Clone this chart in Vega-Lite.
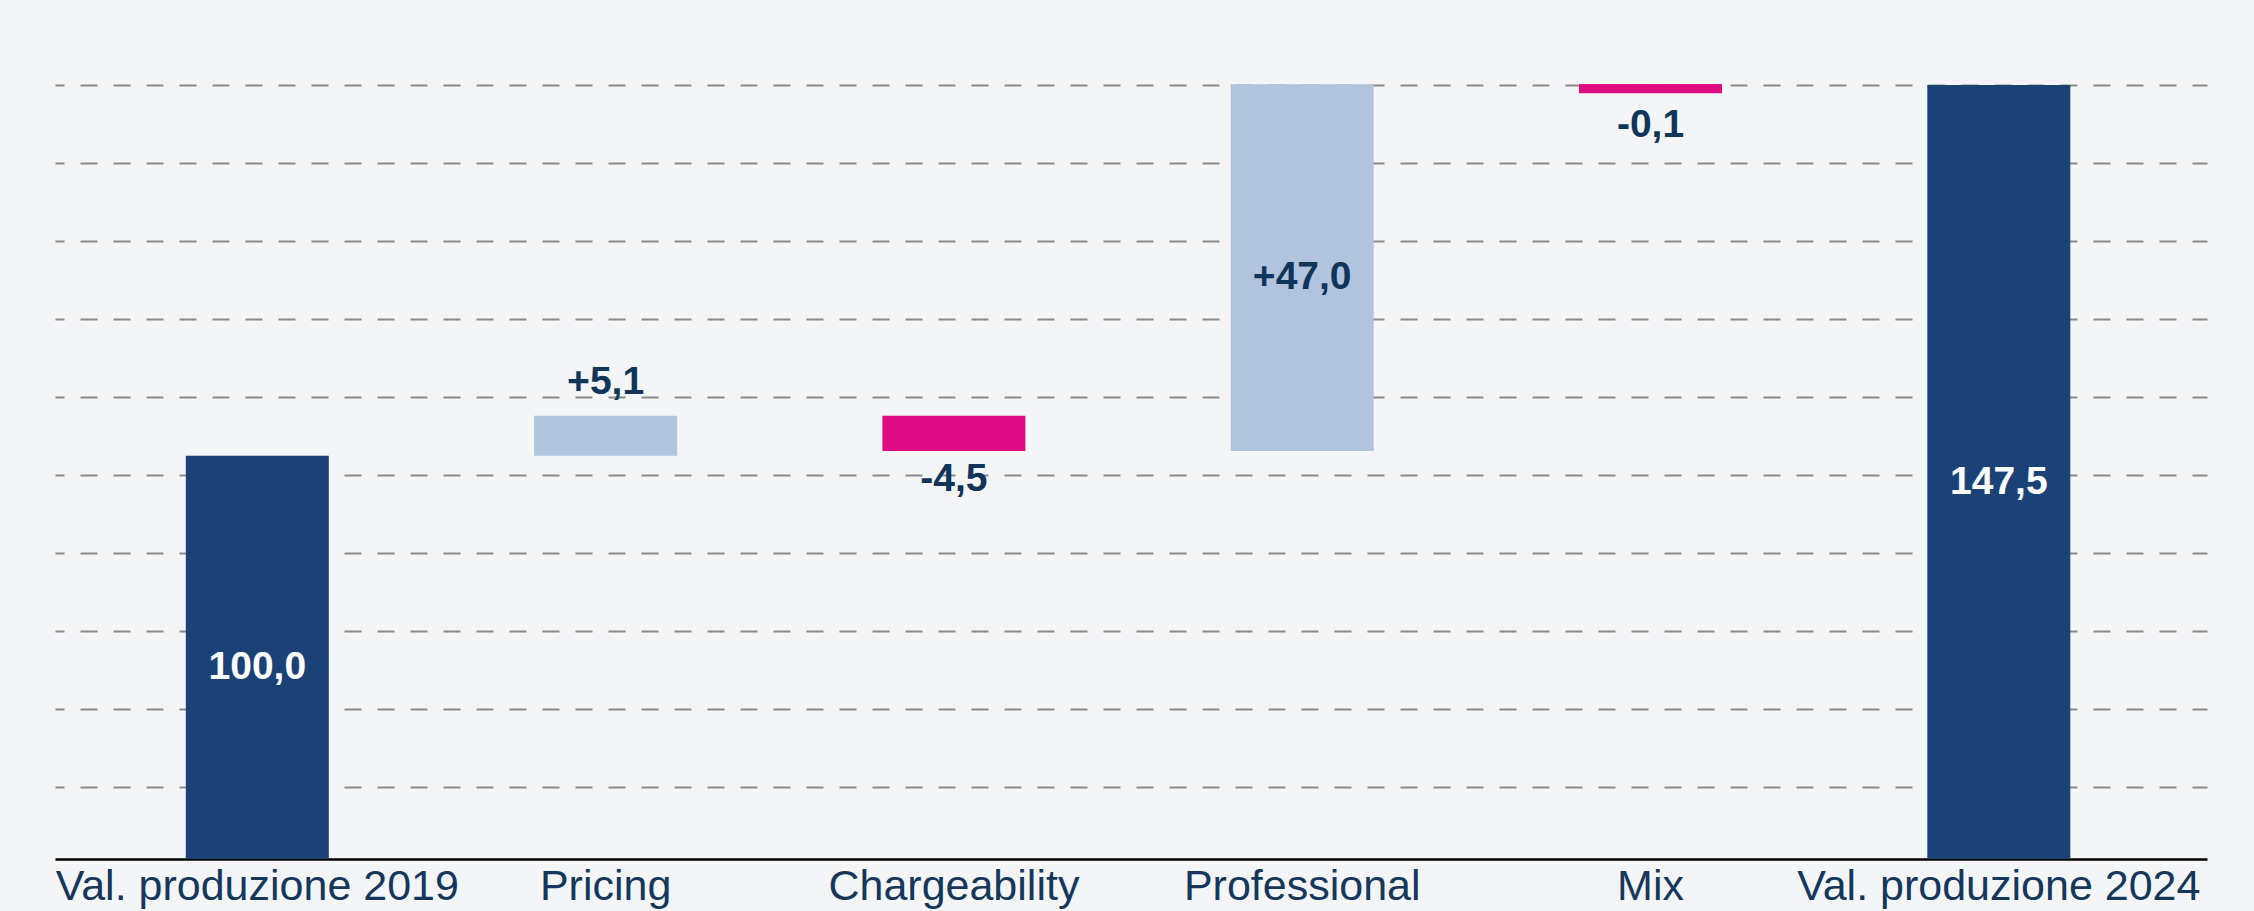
{
  "$schema": "https://vega.github.io/schema/vega-lite/v6.json",
  "autosize": {"type": "none"},
  "padding": {"left": 55, "top": 0, "right": 47, "bottom": 52},
  "width": 2152,
  "height": 859,
  "background": "#f4f5f7",
  "config": {"view": {"stroke": null}},
  "data": {"values": [
    {"label": "Val. produzione 2019", "start": 0, "end": 100, "type": "total", "text": "100,0"},
    {"label": "Pricing", "start": 100, "end": 105.1, "type": "increase", "text": "+5,1"},
    {"label": "Chargeability", "start": 105.1, "end": 100.6, "type": "decrease", "text": "-4,5"},
    {"label": "Professional", "start": 100.6, "end": 147.6, "type": "increase", "text": "+47,0"},
    {"label": "Mix", "start": 147.6, "end": 147.5, "type": "decrease", "text": "-0,1"},
    {"label": "Val. produzione 2024", "start": 0, "end": 147.5, "type": "total", "text": "147,5"}
  ]},
  "transform": [
    {"calculate": "(max(datum.start, 48.3) + datum.end) / 2", "as": "mid"},
    {"calculate": "datum.end - datum.start", "as": "delta"}
  ],
  "encoding": {
    "x": {
      "field": "label", "type": "nominal", "sort": null,
      "scale": {"paddingInner": 0.5894, "paddingOuter": 0.384, "align": 0.489},
      "axis": {
        "title": null, "labelAngle": 0, "ticks": false,
        "domainColor": "#000000", "domainWidth": 2.5,
        "labelFont": "Liberation Sans", "labelFontSize": 43, "labelColor": "#15375c",
        "labelPadding": 6, "labelLimit": 1000, "labelOverlap": false
      }
    }
  },
  "layer": [
    {
      "mark": {"type": "bar", "clip": true},
      "encoding": {
        "y": {
          "field": "start", "type": "quantitative",
          "scale": {"domain": [48.3, 158.4], "nice": false, "zero": false},
          "axis": {
            "title": null, "labels": false, "ticks": false, "domain": false,
            "values": [57.5, 67.5, 77.5, 87.5, 97.5, 107.5, 117.5, 127.5, 137.5, 147.5],
            "grid": true, "gridColor": "#8a8a8a", "gridWidth": 2,
            "gridDash": [17, 16], "gridDashOffset": 8
          }
        },
        "y2": {"field": "end"},
        "color": {
          "field": "type", "type": "nominal", "legend": null,
          "scale": {"domain": ["total", "increase", "decrease"], "range": ["#1b4276", "#b0c4de", "#de0b85"]}
        }
      }
    },
    {
      "transform": [{"filter": "abs(datum.delta) < 0.5"}],
      "mark": {"type": "tick", "orient": "horizontal", "thickness": 9, "size": 143, "yOffset": 4.5, "color": "#de0b85", "opacity": 1},
      "encoding": {
        "y": {"field": "start", "type": "quantitative"}
      }
    },
    {
      "transform": [{"filter": "datum.type == 'total'"}],
      "mark": {"type": "text", "font": "Liberation Sans", "fontSize": 39, "fontWeight": "bold", "color": "#ffffff", "baseline": "middle", "dy": 10},
      "encoding": {
        "y": {"field": "mid", "type": "quantitative"},
        "text": {"field": "text"}
      }
    },
    {
      "transform": [{"filter": "datum.type != 'total' && abs(datum.delta) >= 10"}],
      "mark": {"type": "text", "font": "Liberation Sans", "fontSize": 39, "fontWeight": "bold", "color": "#10355a", "baseline": "middle", "dy": 9},
      "encoding": {
        "y": {"field": "mid", "type": "quantitative"},
        "text": {"field": "text"}
      }
    },
    {
      "transform": [{"filter": "datum.type != 'total' && datum.delta > 0 && datum.delta < 10"}],
      "mark": {"type": "text", "font": "Liberation Sans", "fontSize": 39, "fontWeight": "bold", "color": "#10355a", "baseline": "alphabetic", "dy": -22},
      "encoding": {
        "y": {"field": "end", "type": "quantitative"},
        "text": {"field": "text"}
      }
    },
    {
      "transform": [{"filter": "datum.type != 'total' && datum.delta <= -0.5 && datum.delta > -10"}],
      "mark": {"type": "text", "font": "Liberation Sans", "fontSize": 39, "fontWeight": "bold", "color": "#10355a", "baseline": "top", "dy": 9},
      "encoding": {
        "y": {"field": "end", "type": "quantitative"},
        "text": {"field": "text"}
      }
    },
    {
      "transform": [{"filter": "datum.delta < 0 && datum.delta > -0.5"}],
      "mark": {"type": "text", "font": "Liberation Sans", "fontSize": 39, "fontWeight": "bold", "color": "#10355a", "baseline": "top", "dy": 21},
      "encoding": {
        "y": {"field": "end", "type": "quantitative"},
        "text": {"field": "text"}
      }
    }
  ]
}
